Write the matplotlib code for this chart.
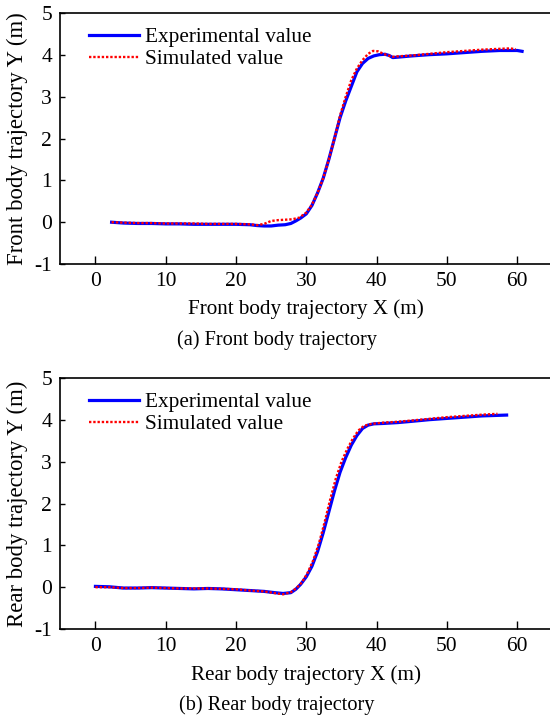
import matplotlib
matplotlib.use("Agg")
import matplotlib.pyplot as plt

plt.rcParams['font.family'] = ['Liberation Serif', 'DejaVu Serif']

# Front body trajectory (m)
front_exp_x = [2.3, 4, 6, 8, 10, 12, 14, 16, 18, 20, 22, 23, 24, 25, 26, 27, 27.8, 28.5, 29.2, 30,
               30.8, 31.6, 32.4, 33.2, 34, 34.8, 35.6, 36.4, 37.2, 38, 38.8, 39.6, 40.4, 41.2,
               41.8, 42.3, 43, 45, 47.5, 50, 52.5, 55, 57.5, 60, 60.7]
front_exp_y = [0.0, -0.02, -0.03, -0.03, -0.04, -0.04, -0.05, -0.05, -0.05, -0.05, -0.06, -0.08, -0.09,
               -0.09, -0.07, -0.06, -0.03, 0.03, 0.1, 0.2, 0.4, 0.7, 1.05, 1.5, 2.0, 2.5, 2.9, 3.25,
               3.6, 3.8, 3.92, 3.98, 4.01, 4.02, 3.99, 3.94, 3.95, 3.98, 4.01, 4.03, 4.06, 4.09,
               4.11, 4.11, 4.09]
front_sim_x = [2.3, 4, 6, 8, 10, 12, 14, 16, 18, 20, 22, 23, 24, 25, 26, 27, 28, 29, 30, 30.8,
               31.6, 32.4, 33.2, 34, 34.8, 35.6, 36.4, 37.2, 38, 38.8, 39.5, 40.2, 41, 41.7, 42.3,
               43, 45, 47.5, 50, 52.5, 55, 57.5, 59, 59.8]
front_sim_y = [0.0, -0.01, -0.02, -0.02, -0.03, -0.03, -0.03, -0.04, -0.04, -0.04, -0.05, -0.07, -0.04,
               0.03, 0.05, 0.06, 0.07, 0.11, 0.23, 0.42, 0.7, 1.05, 1.5, 2.0, 2.55, 3.0, 3.4,
               3.68, 3.88, 4.03, 4.1, 4.09, 4.03, 3.99, 3.96, 3.97, 3.99, 4.03, 4.07, 4.1, 4.13,
               4.15, 4.16, 4.14]

# Rear body trajectory (m)
rear_exp_x = [0, 2, 4, 6, 8, 10, 12, 14, 16, 18, 20, 22, 24, 25.5, 26.7, 27.8, 28.5, 29.2, 30, 30.8,
              31.6, 32.4, 33.2, 34, 34.8, 35.6, 36.4, 37.2, 38, 38.8, 39.6, 41, 43, 45, 47.5,
              50, 52.5, 55, 58.5]
rear_exp_y = [0.02, 0.01, -0.02, -0.02, -0.01, -0.02, -0.03, -0.04, -0.03, -0.04, -0.06, -0.08, -0.1,
              -0.13, -0.15, -0.13, -0.05, 0.07, 0.25, 0.5, 0.85, 1.3, 1.8, 2.3, 2.75, 3.1, 3.4,
              3.63, 3.8, 3.88, 3.91, 3.92, 3.94, 3.97, 4.01, 4.04, 4.07, 4.1, 4.12]
rear_sim_x = [0, 2, 4, 6, 8, 10, 12, 14, 16, 18, 20, 22, 24, 25.5, 26.7, 27.8, 28.6, 29.4, 30.2, 31.0,
              31.8, 32.6, 33.4, 34.2, 35.0, 35.8, 36.6, 37.4, 38.2, 39.0, 39.8, 41, 43, 45, 47.5,
              50, 52.5, 55, 57.2]
rear_sim_y = [0.0, 0.0, -0.02, -0.02, -0.01, -0.02, -0.03, -0.03, -0.03, -0.04, -0.05, -0.08, -0.1,
              -0.14, -0.17, -0.12, -0.02, 0.12, 0.35, 0.65, 1.05, 1.55, 2.1, 2.6, 3.0, 3.3, 3.55,
              3.75, 3.86, 3.9, 3.92, 3.94, 3.96, 3.99, 4.03, 4.07, 4.1, 4.13, 4.15]

x_ticks = [0, 10, 20, 30, 40, 50, 60]
y_ticks = [-1, 0, 1, 2, 3, 4, 5]

W, H = 550, 721
fig = plt.figure(figsize=(W / 100, H / 100), dpi=100)

BLUE = '#0000ff'
RED = '#ff0000'
TICK_FS = 15.5
LABEL_FS = 15.2
YLABEL_FS = 16.4
LEGEND_FS = 15.3
CAPTION_FS = 14.6

panels = [
    (front_exp_x, front_exp_y, front_sim_x, front_sim_y, 13.3, 'Front body trajectory X (m)',
     'Front body trajectory Y (m)', '(a) Front body trajectory', 309, 340),
    (rear_exp_x, rear_exp_y, rear_sim_x, rear_sim_y, 378.3, 'Rear body trajectory X (m)',
     'Rear body trajectory Y (m)', '(b) Rear body trajectory', 675, 705),
]

left_px, width_px, height_px = 60.3, 492.0, 250.7
for ex, ey, sx, sy, top_px, xl, yl, cap, xl_y, cap_y in panels:
    ax = fig.add_axes([left_px / W, 1 - (top_px + height_px) / H, width_px / W, height_px / H])
    ax.plot(ex, ey, color=BLUE, lw=2.3, label='Experimental value')
    ax.plot(sx, sy, color=RED, lw=1.7, ls=(0, (1, 0.8)), label='Simulated value')
    ax.set_xlim(-5, 65)
    ax.set_ylim(-1, 5)
    ax.set_xticks(x_ticks)
    ax.set_yticks(y_ticks)
    ax.set_yticklabels([str(v) for v in y_ticks])
    ax.tick_params(direction='in', width=1.0, labelsize=TICK_FS)
    ax.tick_params(axis='x', length=6, pad=6)
    ax.tick_params(axis='y', length=3.6, pad=6)
    for s in ax.spines.values():
        s.set_linewidth(1.2)
    ax.set_xlabel(xl, fontsize=LABEL_FS)
    ax.xaxis.set_label_coords(0.5, -(xl_y - (top_px + height_px)) / height_px)
    ax.xaxis.label.set_va('center')
    ax.set_ylabel(yl, fontsize=YLABEL_FS)
    ax.yaxis.set_label_coords(-(left_px - 17) / width_px, 0.5)
    ax.yaxis.label.set_va('center')
    ax.legend(loc='upper left', bbox_to_anchor=((89 - left_px) / width_px, 0.945), frameon=False,
              fontsize=LEGEND_FS, handlelength=2.35, handletextpad=0.3, labelspacing=0.12,
              borderaxespad=0, borderpad=0)
    fig.text(277 / W, 1 - cap_y / H, cap, ha='center', va='center', fontsize=CAPTION_FS)

fig.savefig('out.png', dpi=100)
